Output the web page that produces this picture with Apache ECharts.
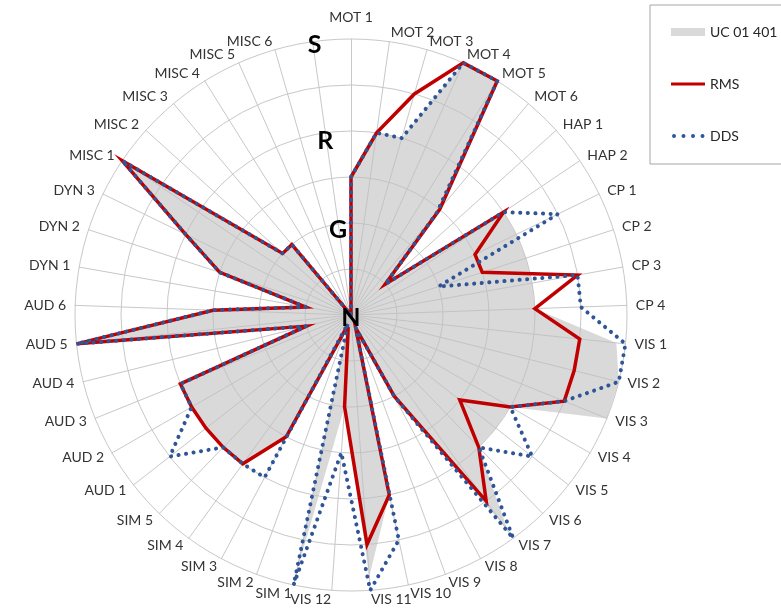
<!DOCTYPE html>
<html><head><meta charset="utf-8">
<script src="https://cdn.jsdelivr.net/npm/echarts@6/dist/echarts.min.js"></script>
<style>html,body{margin:0;padding:0;background:#fff}#c{width:781px;height:611px}</style>
</head><body><div id="c"></div>
<script>
// Categories clockwise from the top (last one is an unlabeled scale spoke)
const categories = ['MOT 1','MOT 2','MOT 3','MOT 4','MOT 5','MOT 6','HAP 1','HAP 2',
  'CP 1','CP 2','CP 3','CP 4',
  'VIS 1','VIS 2','VIS 3','VIS 4','VIS 5','VIS 6','VIS 7','VIS 8','VIS 9','VIS 10','VIS 11','VIS 12',
  'SIM 1','SIM 2','SIM 3','SIM 4','SIM 5',
  'AUD 1','AUD 2','AUD 3','AUD 4','AUD 5','AUD 6',
  'DYN 1','DYN 2','DYN 3',
  'MISC 1','MISC 2','MISC 3','MISC 4','MISC 5','MISC 6',''];
const ucValues  = [1.5,2.0,2.0,3.0,3.0,1.5,0.5,2.0, 2.0,2.0,2.0,2.0,
  2.9,3.0,3.0,2.0,2.0,2.0,2.9,1.0,0.15,2.0,2.85,1.0,
  2.9,0.1,1.5,2.0,2.0, 2.0,2.0,2.0,0.5,3.0,1.5, 0.5,1.5,2.0, 3.0,1.0,1.0,0,0,0,0];
const rmsValues = [1.5,2.0,2.5,3.0,3.0,1.5,0.5,2.0, 1.5,1.5,2.5,2.0,
  2.5,2.5,2.5,2.0,1.5,2.0,2.5,1.0,0.15,2.0,2.5,1.0,
  0.15,0.15,1.5,2.0,2.0, 2.0,2.0,2.0,0.5,3.0,1.5, 0.5,1.5,2.0, 3.0,1.0,1.0,0,0,0,0];
const ddsValues = [1.5,2.0,2.0,3.0,3.0,1.45,0.5,2.0, 2.5,1.0,2.5,2.5,
  3.0,3.0,2.5,2.0,2.5,2.0,3.0,1.0,0.15,2.5,3.0,1.5,
  3.0,0.1,2.0,2.0,2.0, 2.5,2.0,2.0,0.5,3.0,1.5, 0.5,1.5,2.0, 3.0,1.0,1.0,0,0,0,0];
const levelLabels = ['N','G','R','S'];
const seriesNames = ['UC 01 401','RMS','DDS'];

// ECharts radar runs counter-clockwise; reorder so the categories run clockwise
const order = [0];
for (let i = categories.length - 1; i >= 1; i--) order.push(i);
const ro = a => order.map(i => a[i]);

const indicator = order.map(i => ({ name: categories[i], min: 0, max: 3 }));
const lvlBase = { fontSize: 25, fontWeight: 'bold', color: '#000', fontFamily: 'Lato' };
const labelIndicator = order.map(i => {
  const ind = { name: '', min: 0, max: 3 };
  if (categories[i] === '') {
    ind.axisLabel = {
      show: true, margin: 0, align: 'center', verticalAlign: 'middle',
      fontSize: 25, fontWeight: 'bold', color: '#000', fontFamily: 'Lato',
      formatter: v => (Number.isInteger(v) ? '{l' + v + '|' + levelLabels[v] + '}' : ''),
      rich: {
        l0: Object.assign({ padding: [6, 0, 0, 0] }, lvlBase),
        l1: Object.assign({ padding: [12, 0, 0, 0] }, lvlBase),
        l2: Object.assign({ padding: [16, 0, 0, 0] }, lvlBase),
        l3: Object.assign({ padding: [6, 0, 0, 4] }, lvlBase)
      }
    };
  }
  return ind;
});

const common = { center: [351, 315], radius: 276, startAngle: 90, shape: 'circle', splitNumber: 6 };

const chart = echarts.init(document.getElementById('c'), null, { renderer: 'canvas' });
chart.setOption({
  animation: false,
  backgroundColor: '#fff',
  legend: {
    orient: 'vertical', left: 650, top: 5,
    padding: [20, 40, 21, 21],
    borderColor: '#a6a6a6', borderWidth: 1,
    itemGap: 38, itemWidth: 34, itemHeight: 8,
    textStyle: { fontSize: 14, color: '#262626', fontFamily: 'Lato' },
    itemStyle: { borderWidth: 0 },
    data: [
      { name: seriesNames[0], icon: 'path://M0,0M34,8M0,0H34V8H0Z', itemStyle: { color: '#d9d9d9' } },
      { name: seriesNames[1], icon: 'path://M0,0M34,8M0,2.5H34V5.5H0Z', itemStyle: { color: '#c00000' } },
      { name: seriesNames[2], icon: 'path://M0,0M34,8M1,4a2,2 0 1,0 4,0a2,2 0 1,0 -4,0ZM10.5,4a2,2 0 1,0 4,0a2,2 0 1,0 -4,0ZM20,4a2,2 0 1,0 4,0a2,2 0 1,0 -4,0ZM29.5,4a2,2 0 1,0 4,0a2,2 0 1,0 -4,0Z', itemStyle: { color: '#2f5597' } }
    ]
  },
  radar: [
    Object.assign({}, common, {
      indicator: indicator,
      nameGap: 9,
      axisName: {
        color: '#333', fontSize: 14, fontFamily: 'Lato',
        formatter: name => (name === categories[0] ? '{top|' + name + '}' : name),
        rich: { top: { color: '#333', fontSize: 14, fontFamily: 'Lato', padding: [0, 0, 6, 0] } }
      },
      splitLine: { lineStyle: { color: '#c8c8c8', width: 1 } },
      splitArea: { show: false },
      axisLine: { lineStyle: { color: '#c8c8c8', width: 1 } },
      axisTick: { show: false },
      axisLabel: { show: false }
    }),
    Object.assign({}, common, {
      z: 10,
      indicator: labelIndicator,
      axisName: { show: false },
      splitLine: { show: false },
      splitArea: { show: false },
      axisLine: { show: false },
      axisTick: { show: false },
      axisLabel: { show: false }
    })
  ],
  series: [{
    type: 'radar', symbol: 'none', radarIndex: 0,
    data: [
      { name: seriesNames[0], value: ro(ucValues),
        lineStyle: { width: 0, opacity: 0 },
        areaStyle: { color: '#bfbfbf', opacity: 0.6 },
        itemStyle: { color: '#d9d9d9' } },
      { name: seriesNames[1], value: ro(rmsValues),
        lineStyle: { color: '#c00000', width: 3.5, join: 'miter' },
        itemStyle: { color: '#c00000' } },
      { name: seriesNames[2], value: ro(ddsValues),
        lineStyle: { color: '#2f5597', width: 4, type: [0.1, 7.5], cap: 'round' },
        itemStyle: { color: '#2f5597' } }
    ]
  }]
});
</script></body></html>
